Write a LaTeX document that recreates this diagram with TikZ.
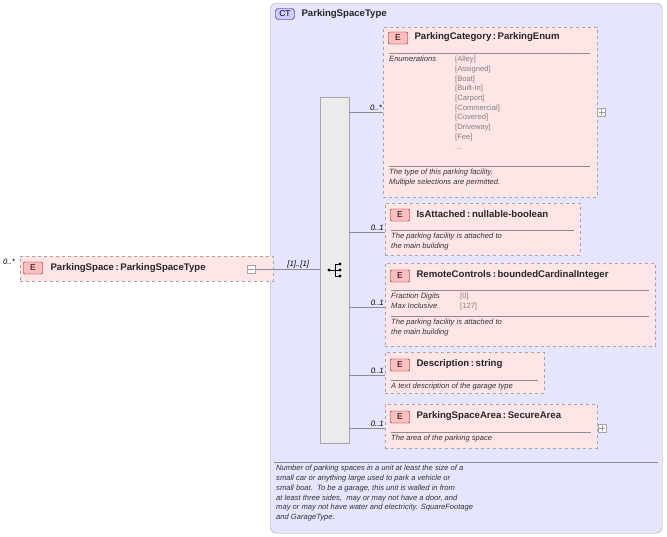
\documentclass[tikz,border=0pt]{standalone}
\usepackage{fontspec}
\setmainfont{Liberation Sans}
\begin{document}
\begin{tikzpicture}[x=1pt,y=-1pt,
 el/.style={draw=black!35,dashed,fill=red!10,line width=0.6pt},
 badge/.style={draw=red!50!black,fill=red!25,rounded corners=1pt,minimum width=19pt,minimum height=12pt,inner sep=0pt,font=\fontsize{8.5}{8.5}\selectfont},
 ttl/.style={anchor=west,font=\bfseries\fontsize{9.6}{10}\selectfont,text=black!85},
 doc/.style={anchor=north west,font=\itshape\fontsize{7.6}{9.8}\selectfont,align=left,inner sep=0pt,text=black!80},
 enum/.style={anchor=north west,font=\fontsize{7.6}{9.7}\selectfont,align=left,inner sep=0pt,text=black!50},
 card/.style={anchor=south east,font=\itshape\fontsize{7.8}{8}\selectfont,inner sep=1pt},
 sepl/.style={draw=black!45},
 conn/.style={draw=black!45},
 pm/.style={draw=black!35,fill=white,minimum size=8pt,inner sep=0pt}]
\useasboundingbox (0,0) rectangle (667,536);
% outer complex type
\node[draw=black!35,rounded corners=6pt,fill=blue!10,minimum width=392pt,minimum height=530pt,anchor=north west,inner sep=0pt] (ct) at (270,3) {};
\node[draw=blue!50!black,fill=blue!20,rounded corners=3pt,minimum width=19pt,minimum height=11pt,inner sep=0pt,font=\fontsize{8.5}{8.5}\selectfont] (ctb) at (285,14) {CT};
\node[ttl] (ctt) at (298,14) {ParkingSpaceType};
% sequence bar
\node[draw=black!35,fill=black!8,minimum width=29pt,minimum height=346pt,anchor=north west,inner sep=0pt] (seq) at (320,97) {};
\node[inner sep=0pt] (seqi) at (335,270) {};
\fill (329,270) circle (1.6pt);
\draw (329,270) -- (335,270) (335,264) -- (335,276) (335,264) -- (340,264) (335,270)--(340,270) (335,276)--(340,276);
\fill (340,264) circle (1.6pt) (340,270) circle (1.6pt) (340,276) circle (1.6pt);
% ParkingSpace
\node[el,minimum width=253pt,minimum height=25pt,anchor=north west,inner sep=0pt] (ps) at (20,256) {};
\node[font=\itshape\fontsize{7.8}{8}\selectfont] (psc) at (9,262) {0..*};
\node[badge] (psb) at (33,268) {E};
\node[ttl] (pst) at (47,268) {ParkingSpace\,:\,ParkingSpaceType};
\node[pm] (psm) at (251,269) {};
\draw[black!40] (248,269)--(254,269);
\draw[conn] (psm.east) -- (seq.west|-psm.east) node[card,pos=0.85] {[1]..[1]};
% ParkingCategory
\node[el,minimum width=214pt,minimum height=170pt,anchor=north west,inner sep=0pt] (pc) at (383,27) {};
\node[badge] (pcb) at (398,38) {E};
\node[ttl] (pct) at (411,37) {ParkingCategory\,:\,ParkingEnum};
\draw[sepl] (389,53)--(590,53) (389,166)--(590,166);
\node[doc] (pce) at (389,56) {Enumerations};
\node[enum] (pcv) at (455,56) {{[Alley]}\\ {[Assigned]}\\ {[Boat]}\\ {[Built-In]}\\ {[Carport]}\\ {[Commercial]}\\ {[Covered]}\\ {[Driveway]}\\ {[Fee]}\\ ...};
\node[doc] (pcd) at (389,169) {The type of this parking facility.\\ Multiple selections are permitted.};
\node[pm] (pcp) at (601.5,112) {};
\draw[black!40] (598.5,112)--(604.5,112) (601.5,109)--(601.5,115);
\coordinate (c1) at (349,112);
\draw[conn] (c1) -- (pc.west|-c1) node[card,pos=1] {0..*};
% IsAttached
\node[el,minimum width=195pt,minimum height=52pt,anchor=north west,inner sep=0pt] (ia) at (385,203) {};
\node[badge] (iab) at (400,215) {E};
\node[ttl] (iat) at (413,214) {IsAttached\,:\,nullable-boolean};
\draw[sepl] (391,230)--(574,230);
\node[doc] (iad) at (391,233) {The parking facility is attached to\\ the main building};
\coordinate (c2) at (349,232);
\draw[conn] (c2) -- (ia.west|-c2) node[card,pos=1] {0..1};
% RemoteControls
\node[el,minimum width=270pt,minimum height=83pt,anchor=north west,inner sep=0pt] (rc) at (385,263) {};
\node[badge] (rcb) at (400,276) {E};
\node[ttl] (rct) at (413,275) {RemoteControls\,:\,boundedCardinalInteger};
\draw[sepl] (391,290)--(649,290) (391,316)--(649,316);
\node[doc] (rcf) at (391,293) {Fraction Digits\\ Max Inclusive};
\node[enum] (rcv) at (460,293) {{[0]}\\ {[127]}};
\node[doc] (rcd) at (391,319) {The parking facility is attached to\\ the main building};
\coordinate (c3) at (349,307);
\draw[conn] (c3) -- (rc.west|-c3) node[card,pos=1] {0..1};
% Description
\node[el,minimum width=159pt,minimum height=41pt,anchor=north west,inner sep=0pt] (de) at (385,352) {};
\node[badge] (deb) at (400,365) {E};
\node[ttl] (det) at (413,364) {Description\,:\,string};
\draw[sepl] (391,380)--(538,380);
\node[doc] (ded) at (391,383) {A text description of the garage type};
\coordinate (c4) at (349,375);
\draw[conn] (c4) -- (de.west|-c4) node[card,pos=1] {0..1};
% ParkingSpaceArea
\node[el,minimum width=212pt,minimum height=44pt,anchor=north west,inner sep=0pt] (pa) at (385,404) {};
\node[badge] (pab) at (400,417) {E};
\node[ttl] (pat) at (413,416) {ParkingSpaceArea\,:\,SecureArea};
\draw[sepl] (391,432)--(591,432);
\node[doc] (pad) at (391,435) {The area of the parking space};
\node[pm] (pap) at (602,428) {};
\draw[black!40] (599,428)--(605,428) (602,425)--(602,431);
\coordinate (c5) at (349,428);
\draw[conn] (c5) -- (pa.west|-c5) node[card,pos=1] {0..1};
% bottom doc
\draw[sepl] (274,462)--(658,462);
\node[doc] (ctd) at (276,465) {Number of parking spaces in a unit at least the size of a\\ small car or anything large used to park a vehicle or\\ small boat.\ \ To be a garage, this unit is walled in from\\ at least three sides,\ \ may or may not have a door, and\\ may or may not have water and electricity. SquareFootage\\ and GarageType.};
\end{tikzpicture}
\end{document}
